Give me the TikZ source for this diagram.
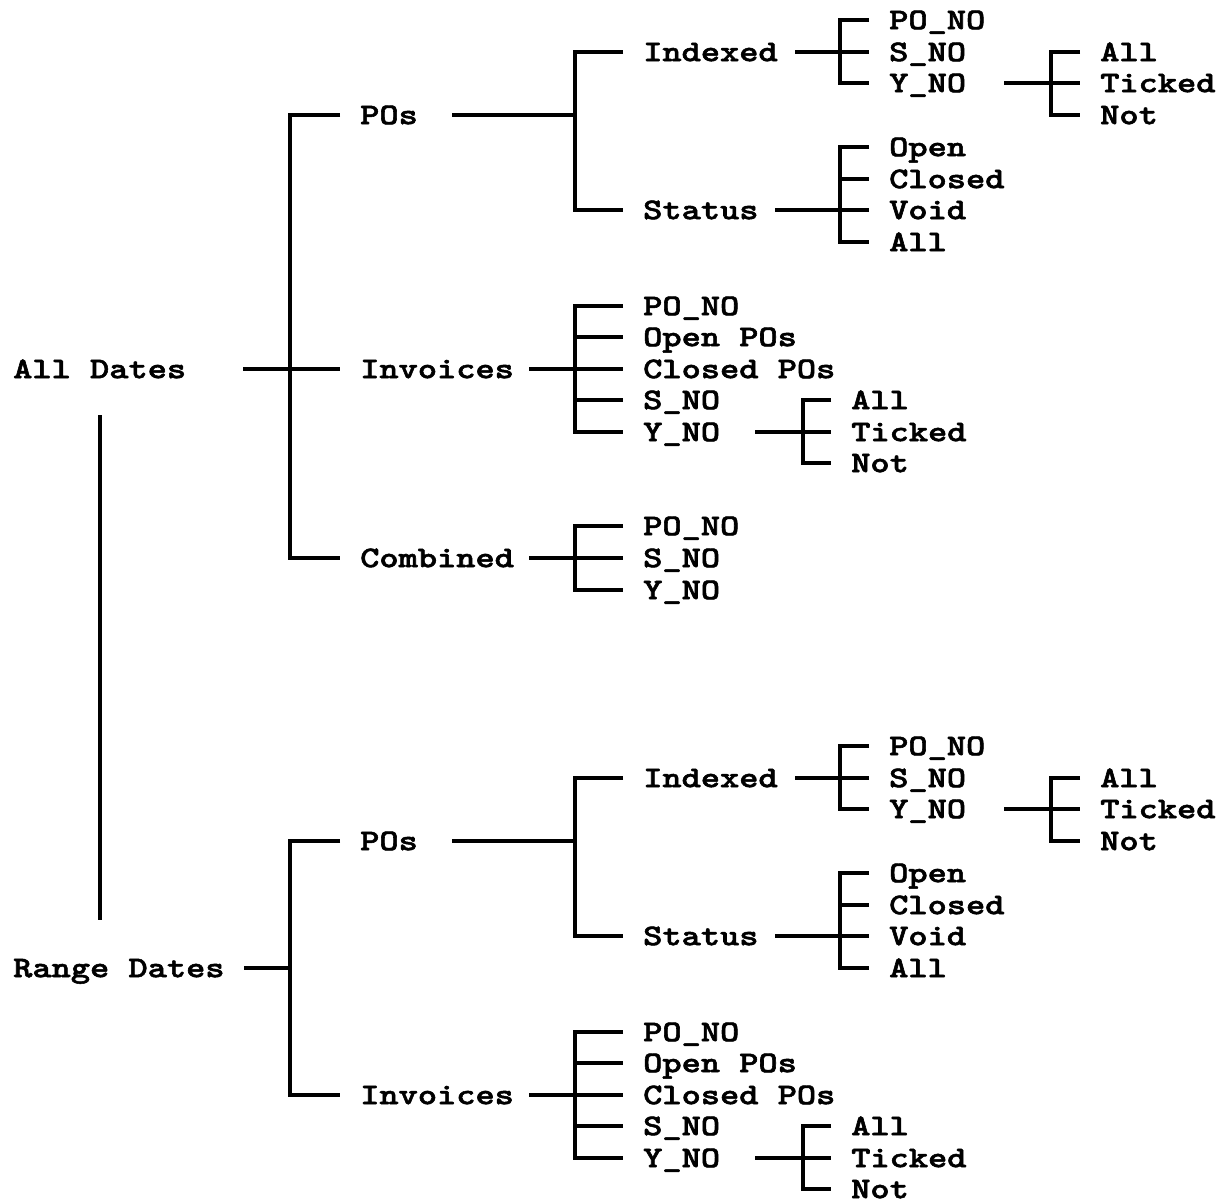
\documentclass[tikz,border=0pt]{standalone}
\usepackage{fontspec}
\newfontfamily\cour{lmmonolt10-bold}[Extension=.otf, FakeBold=1.6]
\newcommand\T[1]{\scalebox{1}[0.82]{#1}}
\tikzset{
  lbl/.style={anchor=west, inner sep=0pt, text height=18.3pt, text depth=0pt,
              font=\cour\fontsize{36.6}{36.6}\selectfont},
  ln/.style={line width=3.1pt, line join=miter},
}
% POs and Invoices subtrees, drawn at the positions of the upper half
\newcommand\subtrees[1]{%
  \node[lbl] (#1pos) at (360,115) {\T{POs}};
  \node[lbl] (#1inv) at (360,369) {\T{Invoices}};
  \node[lbl] (#1idx) at (643,52) {\T{Indexed}};
  \node[lbl] (#1sta) at (643,210) {\T{Status}};
  \node[lbl] (#1ipo) at (889,20) {\T{PO\_NO}};
  \node[lbl] (#1is) at (889,52) {\T{S\_NO}};
  \node[lbl] (#1iy) at (889,83) {\T{Y\_NO}};
  \node[lbl] (#1ya) at (1100,52) {\T{All}};
  \node[lbl] (#1yt) at (1100,83) {\T{Ticked}};
  \node[lbl] (#1yn) at (1100,115) {\T{Not}};
  \node[lbl] (#1so) at (889,147) {\T{Open}};
  \node[lbl] (#1sc) at (889,179) {\T{Closed}};
  \node[lbl] (#1sv) at (889,210) {\T{Void}};
  \node[lbl] (#1sa) at (889,242) {\T{All}};
  \node[lbl] (#1npo) at (643,306) {\T{PO\_NO}};
  \node[lbl] (#1nop) at (643,337) {\T{Open POs}};
  \node[lbl] (#1ncp) at (643,369) {\T{Closed POs}};
  \node[lbl] (#1ns) at (643,400) {\T{S\_NO}};
  \node[lbl] (#1ny) at (643,432) {\T{Y\_NO}};
  \node[lbl] (#1na) at (851,400) {\T{All}};
  \node[lbl] (#1nt) at (851,432) {\T{Ticked}};
  \node[lbl] (#1nn) at (851,463) {\T{Not}};
  % POs
  \coordinate (#1poso) at (452,115);
  \coordinate (#1posj) at (575,115);
  \draw[ln] ([xshift=-20pt]#1idx.west) -| (#1posj) |- ([xshift=-20pt]#1sta.west);
  \draw[ln] (#1poso) -- (#1posj);
  % Indexed
  \coordinate (#1idxo) at (795,52);
  \coordinate (#1idxj) at (840,52);
  \draw[ln] ([xshift=-20pt]#1ipo.west) -| (#1idxj) |- ([xshift=-20pt]#1iy.west);
  \draw[ln] (#1idxo) -- ([xshift=-20pt]#1is.west);
  % Y_NO of Indexed
  \coordinate (#1iyo) at (1004,83);
  \coordinate (#1iyj) at (1051,83);
  \draw[ln] ([xshift=-20pt]#1ya.west) -| (#1iyj) |- ([xshift=-20pt]#1yn.west);
  \draw[ln] (#1iyo) -- ([xshift=-20pt]#1yt.west);
  % Status
  \coordinate (#1stao) at (775,210);
  \coordinate (#1staj) at (840,210);
  \draw[ln] ([xshift=-20pt]#1so.west) -| (#1staj) |- ([xshift=-20pt]#1sa.west);
  \draw[ln] (#1staj |- #1sc.west) -- ([xshift=-20pt]#1sc.west);
  \draw[ln] (#1stao) -- ([xshift=-20pt]#1sv.west);
  % Invoices
  \coordinate (#1invo) at (529,369);
  \coordinate (#1invj) at (575,369);
  \draw[ln] ([xshift=-20pt]#1npo.west) -| (#1invj) |- ([xshift=-20pt]#1ny.west);
  \draw[ln] (#1invj |- #1nop.west) -- ([xshift=-20pt]#1nop.west);
  \draw[ln] (#1invj |- #1ns.west) -- ([xshift=-20pt]#1ns.west);
  \draw[ln] (#1invo) -- ([xshift=-20pt]#1ncp.west);
  % Y_NO of Invoices
  \coordinate (#1nyo) at (755,432);
  \coordinate (#1nyj) at (803,432);
  \draw[ln] ([xshift=-20pt]#1na.west) -| (#1nyj) |- ([xshift=-20pt]#1nn.west);
  \draw[ln] (#1nyo) -- ([xshift=-20pt]#1nt.west);
}
\begin{document}
\begin{tikzpicture}[x=1pt,y=-1pt]
\useasboundingbox (0,0) rectangle (1224,1203);
\fill[white] (0,0) rectangle (1224,1203);

% upper half
\node[lbl] (ad) at (13,369) {\T{All Dates}};
\subtrees{a}
\node[lbl] (acomb) at (360,558) {\T{Combined}};
\node[lbl] (acpo) at (643,526) {\T{PO\_NO}};
\node[lbl] (acs) at (643,558) {\T{S\_NO}};
\node[lbl] (acy) at (643,590) {\T{Y\_NO}};

\coordinate (ado) at (243,369);
\coordinate (adj) at (290,369);
\draw[ln] ([xshift=-20pt]apos.west) -| (adj) |- ([xshift=-20pt]acomb.west);
\draw[ln] (ado) -- ([xshift=-20pt]ainv.west);

\coordinate (acombo) at (529,558);
\coordinate (acombj) at (575,558);
\draw[ln] ([xshift=-20pt]acpo.west) -| (acombj) |- ([xshift=-20pt]acy.west);
\draw[ln] (acombo) -- ([xshift=-20pt]acs.west);

% lower half
\node[lbl] (rd) at (13,968) {\T{Range Dates}};
\begin{scope}[yshift=-726pt]
\subtrees{b}
\end{scope}
\coordinate (rdo) at (244,968);
\coordinate (rdj) at (290,968);
\draw[ln] ([xshift=-20pt]bpos.west) -| (rdj) |- ([xshift=-20pt]binv.west);
\draw[ln] (rdo) -- (rdj);

% link between the two roots
\coordinate (vt) at (100,415);
\coordinate (vb) at (100,920);
\draw[ln] (vt) -- (vb);
\end{tikzpicture}
\end{document}
